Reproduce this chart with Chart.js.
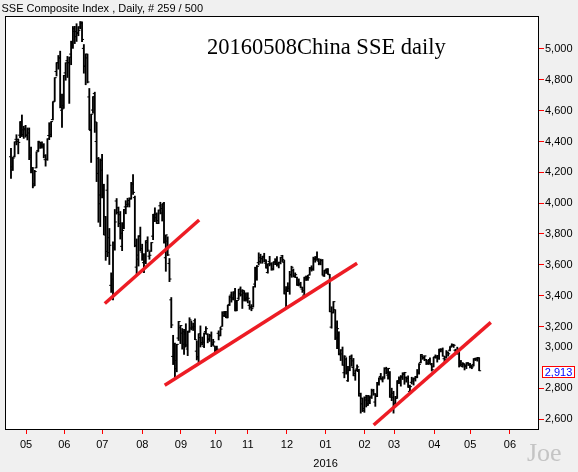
<!DOCTYPE html>
<html><head><meta charset="utf-8">
<script src="https://cdn.jsdelivr.net/npm/chart.js@4.4.1/dist/chart.umd.min.js"></script>
<style>
html,body{margin:0;padding:0;background:#f0f0f0;}
#wrap{position:relative;width:578px;height:472px;overflow:hidden;}
#c{position:absolute;left:0;top:0;}
.t{position:absolute;white-space:nowrap;z-index:2;}
</style></head><body>
<div id="wrap">
<canvas id="c" width="578" height="472"></canvas>
<div class="t" style="left:1.5px;top:0;font:11px 'Liberation Sans',Arial,sans-serif;line-height:16px;color:#000">SSE Composite Index , Daily, # 259 / 500</div>
<div class="t" style="left:207px;top:34px;font:22.5px 'Liberation Serif','Times New Roman',serif;line-height:26px;color:#000">20160508China SSE daily</div>
<div class="t" style="left:527px;top:438px;font:26px 'Liberation Serif','Times New Roman',serif;line-height:30px;color:#c4c4c4">Joe</div>
</div>
<script>
const dates = [
'15/04/20','15/04/21','15/04/22','15/04/23','15/04/24','15/04/27','15/04/28','15/04/29','15/04/30',
'15/05/04','15/05/05','15/05/06','15/05/07','15/05/08','15/05/11','15/05/12','15/05/13','15/05/14','15/05/15','15/05/18','15/05/19','15/05/20','15/05/21','15/05/22','15/05/25','15/05/26','15/05/27','15/05/28','15/05/29',
'15/06/01','15/06/02','15/06/03','15/06/04','15/06/05','15/06/08','15/06/09','15/06/10','15/06/11','15/06/12','15/06/15','15/06/16','15/06/17','15/06/18','15/06/19','15/06/23','15/06/24','15/06/25','15/06/26','15/06/29','15/06/30',
'15/07/01','15/07/02','15/07/03','15/07/06','15/07/07','15/07/08','15/07/09','15/07/10','15/07/13','15/07/14','15/07/15','15/07/16','15/07/17','15/07/20','15/07/21','15/07/22','15/07/23','15/07/24','15/07/27','15/07/28','15/07/29','15/07/30','15/07/31',
'15/08/03','15/08/04','15/08/05','15/08/06','15/08/07','15/08/10','15/08/11','15/08/12','15/08/13','15/08/14','15/08/17','15/08/18','15/08/19','15/08/20','15/08/21','15/08/24','15/08/25','15/08/26','15/08/27','15/08/28','15/08/31',
'15/09/01','15/09/02','15/09/07','15/09/08','15/09/09','15/09/10','15/09/11','15/09/14','15/09/15','15/09/16','15/09/17','15/09/18','15/09/21','15/09/22','15/09/23','15/09/24','15/09/25','15/09/28','15/09/29','15/09/30',
'15/10/08','15/10/09','15/10/12','15/10/13','15/10/14','15/10/15','15/10/16','15/10/19','15/10/20','15/10/21','15/10/22','15/10/23','15/10/26','15/10/27','15/10/28','15/10/29','15/10/30',
'15/11/02','15/11/03','15/11/04','15/11/05','15/11/06','15/11/09','15/11/10','15/11/11','15/11/12','15/11/13','15/11/16','15/11/17','15/11/18','15/11/19','15/11/20','15/11/23','15/11/24','15/11/25','15/11/26','15/11/27','15/11/30',
'15/12/01','15/12/02','15/12/03','15/12/04','15/12/07','15/12/08','15/12/09','15/12/10','15/12/11','15/12/14','15/12/15','15/12/16','15/12/17','15/12/18','15/12/21','15/12/22','15/12/23','15/12/24','15/12/25','15/12/28','15/12/29','15/12/30','15/12/31',
'16/01/04','16/01/05','16/01/06','16/01/07','16/01/08','16/01/11','16/01/12','16/01/13','16/01/14','16/01/15','16/01/18','16/01/19','16/01/20','16/01/21','16/01/22','16/01/25','16/01/26','16/01/27','16/01/28','16/01/29',
'16/02/01','16/02/02','16/02/03','16/02/04','16/02/05','16/02/15','16/02/16','16/02/17','16/02/18','16/02/19','16/02/22','16/02/23','16/02/24','16/02/25','16/02/26','16/02/29',
'16/03/01','16/03/02','16/03/03','16/03/04','16/03/07','16/03/08','16/03/09','16/03/10','16/03/11','16/03/14','16/03/15','16/03/16','16/03/17','16/03/18','16/03/21','16/03/22','16/03/23','16/03/24','16/03/25','16/03/28','16/03/29','16/03/30','16/03/31',
'16/04/01','16/04/05','16/04/06','16/04/07','16/04/08','16/04/11','16/04/12','16/04/13','16/04/14','16/04/15','16/04/18','16/04/19','16/04/20','16/04/21','16/04/22','16/04/25','16/04/26','16/04/27','16/04/28','16/04/29',
'16/05/03','16/05/04','16/05/05','16/05/06'];

const opens = [
4301,4235,4304,4414,4400,4441,4527,4445,4483,
4441,4455,4311,4214,4125,4229,4342,4393,4364,4369,4282,4285,4439,4432,4542,4661,4854,4912,4943,4603,
4633,4845,4924,4912,4967,5046,5114,5080,5100,5143,5174,5004,4890,4942,4689,4471,4604,4711,4400,4289,3996,
4214,4058,3793,4084,3679,3467,3432,3743,4014,3940,3868,3720,3850,3976,3977,3994,4030,4125,4036,3585,3637,3784,3683,
3614,3620,3744,3656,3689,3786,3924,3906,3868,3983,3936,3999,3646,3754,3609,3373,3006,3032,2979,3125,3192,
3157,3085,3150,3054,3163,3190,3190,3237,3040,2996,3128,3096,3072,3167,3150,3120,3138,3082,3073,3044,
3156,3140,3201,3271,3281,3256,3343,3404,3378,3417,3302,3383,3443,3405,3417,3380,3378,
3337,3325,3328,3475,3514,3614,3622,3640,3656,3611,3550,3622,3606,3575,3620,3631,3603,3614,3659,3616,3412,
3441,3446,3534,3562,3529,3518,3468,3477,3443,3403,3509,3512,3535,3573,3569,3635,3648,3624,3607,3629,3528,3566,3570,
3536,3196,3292,3309,3195,3131,3023,3047,2900,2988,2848,2918,2992,2934,2895,2924,2908,2765,2698,2669,
2723,2700,2720,2749,2785,2710,2754,2828,2876,2854,2872,2927,2885,2901,2756,2741,
2702,2743,2841,2838,2871,2889,2868,2863,2779,2838,2846,2860,2875,2898,2967,3007,2995,2985,2963,2986,2952,2938,3004,
2997,2995,3047,3052,2991,3001,3030,3046,3073,3078,3046,3044,3050,2965,2940,2952,2940,2962,2951,2940,
2954,2984,2985,2996];

const highs = [
4356,4297,4398,4444,4416,4529,4572,4499,4505,
4488,4488,4363,4232,4213,4333,4402,4395,4398,4386,4315,4418,4522,4529,4658,4814,4911,4958,4986,4708,
4829,4911,4952,4947,5051,5146,5147,5164,5145,5178,5176,5029,4968,4967,4744,4577,4691,4720,4524,4297,4287,
4317,4123,3914,4184,3836,3548,3749,3959,4030,3975,3946,3874,3960,4016,4032,4035,4135,4185,4046,3768,3789,3845,3734,
3673,3757,3782,3686,3745,3928,3970,3937,3956,4006,3994,4006,3794,3782,3641,3388,3143,3092,3085,3233,3207,
3187,3181,3218,3170,3257,3236,3223,3250,3107,3153,3204,3132,3158,3199,3153,3150,3165,3117,3073,3073,
3172,3195,3296,3298,3298,3338,3398,3424,3425,3447,3370,3441,3457,3439,3432,3418,3419,
3367,3342,3459,3585,3596,3678,3669,3655,3675,3632,3607,3655,3614,3618,3640,3653,3618,3649,3662,3629,3459,
3484,3558,3591,3573,3548,3521,3509,3487,3455,3520,3528,3532,3584,3594,3650,3654,3684,3640,3637,3635,3564,3574,3576,
3538,3328,3362,3309,3236,3166,3050,3067,3011,2998,2942,3008,3016,2993,2918,2951,2923,2768,2736,2744,
2754,2753,2746,2794,2793,2765,2838,2867,2896,2874,2933,2936,2929,2908,2800,2780,
2747,2849,2873,2882,2900,2903,2874,2880,2820,2871,2867,2877,2921,2959,3019,3012,3010,2987,2981,2996,2961,3000,3016,
3013,3053,3056,3061,3006,3044,3035,3069,3088,3085,3053,3066,3054,2980,2966,2955,2965,2966,2961,2950,
2992,2996,3000,2998];

const lows = [
4160,4212,4300,4378,4320,4425,4432,4420,4428,
4410,4282,4197,4099,4113,4229,4335,4355,4356,4294,4240,4278,4412,4430,4540,4660,4825,4869,4618,4491,
4615,4797,4815,4647,4898,5004,5035,5049,5086,5131,5048,4843,4768,4780,4476,4264,4583,4459,4140,3876,3848,
4034,3795,3629,3653,3602,3421,3373,3695,3929,3847,3767,3692,3834,3931,3976,3975,4026,4057,3717,3537,3592,3691,3629,
3549,3607,3686,3636,3687,3763,3880,3868,3867,3930,3884,3741,3558,3660,3491,3192,2953,2870,2906,3109,3089,
3053,3019,3066,3011,3163,3178,3174,3114,2983,2968,3067,3080,3063,3151,3094,3103,3069,3077,3025,3039,
3113,3139,3201,3264,3258,3256,3336,3358,3372,3301,3302,3375,3397,3317,3365,3364,3353,
3311,3302,3326,3455,3500,3599,3610,3610,3620,3578,3546,3593,3565,3567,3601,3592,3580,3606,3621,3411,3327,
3426,3409,3519,3521,3517,3467,3463,3451,3421,3402,3498,3499,3533,3559,3564,3617,3628,3600,3600,3533,3524,3544,3538,
3295,3189,3288,3115,3057,3016,2979,2948,2867,2891,2844,2913,2942,2880,2851,2911,2748,2638,2648,2643,
2678,2688,2699,2733,2754,2682,2745,2819,2857,2840,2863,2894,2858,2740,2719,2638,
2685,2734,2829,2813,2856,2825,2839,2805,2778,2827,2820,2846,2867,2891,2964,2987,2978,2953,2953,2955,2911,2938,2995,
2969,2987,3035,3007,2963,2994,3008,3041,3069,3064,3030,3020,2937,2943,2936,2918,2927,2947,2932,2926,
2944,2979,2975,2913];

const closes = [
4217,4293,4398,4414,4394,4527,4476,4476,4441,
4480,4298,4229,4112,4205,4333,4401,4375,4378,4308,4283,4418,4446,4529,4657,4814,4910,4941,4620,4612,
4828,4910,4910,4947,5023,5131,5113,5106,5121,5166,5062,4887,4967,4786,4478,4577,4691,4527,4193,4053,4277,
4054,3912,3687,3776,3727,3507,3710,3878,3970,3925,3805,3823,3958,3992,4017,4027,4124,4070,3725,3663,3789,3705,3664,
3623,3757,3695,3662,3744,3928,3928,3887,3955,3965,3994,3748,3794,3664,3508,3210,2965,2927,3084,3232,3206,
3166,3160,3080,3170,3243,3197,3200,3114,3005,3153,3086,3098,3157,3186,3116,3143,3093,3100,3038,3053,
3143,3183,3287,3293,3262,3338,3391,3386,3425,3320,3369,3412,3430,3434,3375,3387,3383,
3326,3316,3459,3522,3590,3646,3640,3650,3632,3580,3607,3605,3568,3617,3630,3610,3616,3648,3635,3436,3445,
3456,3537,3584,3525,3536,3470,3472,3455,3434,3520,3510,3516,3580,3578,3642,3651,3636,3612,3627,3533,3563,3573,3539,
3296,3288,3361,3125,3186,3017,3022,2949,3007,2901,2914,3008,2977,2881,2916,2938,2750,2735,2656,2738,
2689,2749,2740,2782,2763,2746,2837,2867,2862,2860,2927,2903,2928,2742,2767,2688,
2733,2849,2859,2874,2897,2901,2863,2805,2810,2859,2864,2870,2904,2955,3018,2999,3009,2960,2979,2957,2920,3000,3003,
3009,3053,3050,3008,2985,3034,3023,3066,3082,3078,3033,3042,2972,2953,2960,2946,2964,2953,2945,2938,
2992,2991,2997,2913];

const yTickValues = [2600,2800,3000,3200,3400,3600,3800,4000,4200,4400,4600,4800,5000];
const monthLabels = ['05','06','07','08','09','10','11','12','01','02','03','04','05','06'];
const monthTickAt = [8.3,29.3,50.1,72.1,93.3,112.5,130.0,151.5,172.7,194.1,210.3,232.4,252.1,273.9];
const yearLabel = '2016';
const trendFromIdx = [51.5, 84.4, 199.1];
const trendFromVal = [3349, 2819, 2561];
const trendToIdx = [103.3, 190.0, 263.4];
const trendToVal = [3891, 3610, 3227];

const lastPrice = closes[closes.length - 1];
const fmt = v => Math.round(v).toLocaleString('en-US');

const framePlugin = {
  id: 'frame',
  beforeDraw(chart) {
    const {ctx, chartArea: a, width, height} = chart;
    ctx.save();
    ctx.fillStyle = '#f0f0f0';
    ctx.fillRect(0, 0, width, height);
    ctx.fillStyle = '#ffffff';
    ctx.fillRect(a.left, a.top, a.right - a.left, a.bottom - a.top);
    ctx.restore();
  },
  afterDraw(chart) {
    const {ctx, chartArea: a, scales} = chart;
    ctx.save();
    ctx.strokeStyle = '#000';
    ctx.lineWidth = 1;
    ctx.strokeRect(a.left + 0.5, a.top + 0.5, a.right - a.left - 1, a.bottom - a.top - 1);
    const py = Math.round(scales.y.getPixelForValue(lastPrice)) + 1;
    ctx.fillStyle = '#ffffff';
    ctx.fillRect(542.5, py - 5.5, 32, 11);
    ctx.strokeStyle = '#ff0000';
    ctx.strokeRect(542.5, py - 5.5, 32, 11);
    ctx.fillStyle = '#0000ff';
    ctx.font = '11px "Liberation Sans", Arial, sans-serif';
    ctx.textAlign = 'center';
    ctx.textBaseline = 'middle';
    ctx.fillText(fmt(lastPrice), 558.5, py + 0.5);
    ctx.restore();
  }
};

const ohlcBars = highs.map((h, i) => ({x: i, y: [lows[i], h]}));
const openTicks = opens.map((v, i) => ({x: i - 0.55, y: v}));
const closeTicks = closes.map((v, i) => ({x: i + 0.55, y: v}));
const trendSets = trendFromIdx.map((x0, k) => ({
  type: 'line',
  data: [{x: x0, y: trendFromVal[k]}, {x: trendToIdx[k], y: trendToVal[k]}],
  borderColor: '#ed1c24',
  borderWidth: 3.5,
  pointRadius: 0,
  fill: false,
  tension: 0,
  order: 0
}));

new Chart(document.getElementById('c'), {
  type: 'bar',
  data: {
    datasets: [
      {type: 'bar', data: ohlcBars, backgroundColor: '#000', borderWidth: 0, barThickness: 1.2, grouped: false, order: 3},
      {type: 'scatter', data: openTicks, pointStyle: 'line', radius: 1, borderColor: '#000', borderWidth: 1, order: 2},
      {type: 'scatter', data: closeTicks, pointStyle: 'line', radius: 1, borderColor: '#000', borderWidth: 1, order: 2},
      ...trendSets
    ]
  },
  options: {
    responsive: false,
    maintainAspectRatio: false,
    animation: false,
    devicePixelRatio: 1,
    events: [],
    layout: {padding: {left: 4, top: 16, right: 0, bottom: 0}},
    plugins: {legend: {display: false}, tooltip: {enabled: false}, title: {display: false}},
    scales: {
      x: {
        type: 'linear',
        position: 'bottom',
        min: -3.288,
        max: 289.86,
        offset: false,
        afterBuildTicks: s => { s.ticks = monthTickAt.map(v => ({value: v})); },
        afterFit: s => { s.height = 42; },
        border: {display: false},
        grid: {offset: false, drawOnChartArea: false, drawTicks: true, tickLength: 4, tickColor: '#ff0000', tickWidth: 1},
        ticks: {
          autoSkip: false,
          maxRotation: 0,
          padding: 2,
          color: '#000',
          font: {family: "'Liberation Sans', Arial, sans-serif", size: 11, lineHeight: 1.7},
          callback: (v, i) => monthLabels[i] === '01' ? [monthLabels[i], yearLabel] : monthLabels[i]
        }
      },
      y: {
        type: 'linear',
        position: 'right',
        min: 2528.65,
        max: 5214.05,
        afterBuildTicks: s => { s.ticks = yTickValues.map(v => ({value: v})); },
        afterFit: s => { s.width = 39; },
        border: {display: false},
        grid: {
          offset: false, drawOnChartArea: false, drawTicks: true, tickLength: 5, tickWidth: 1,
          tickColor: c => (c.tick && c.tick.value === 3000) ? 'rgba(0,0,0,0)' : '#ff0000'
        },
        ticks: {
          autoSkip: false,
          padding: 1,
          color: '#000',
          font: c => ({family: "'Liberation Sans', Arial, sans-serif", size: 11,
                       lineHeight: (c.tick && c.tick.value === 3000) ? '20px' : 1.2}),
          callback: v => v === 3000 ? [fmt(v), ''] : fmt(v)
        }
      }
    }
  },
  plugins: [framePlugin]
});
</script>
</body></html>
